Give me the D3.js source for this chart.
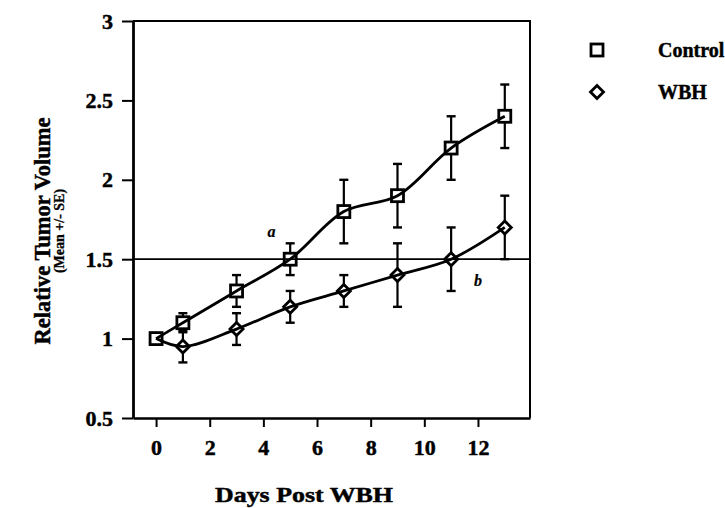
<!DOCTYPE html>
<html>
<head>
<meta charset="utf-8">
<script src="https://cdn.jsdelivr.net/npm/d3@7/dist/d3.min.js"></script>
<style>
  html, body { margin: 0; padding: 0; background: #fff; }
  svg { display: block; }
  text { font-family: "Liberation Serif", "Times New Roman", serif; font-weight: bold; fill: #000; stroke: #000; stroke-width: 0.45px; }
</style>
</head>
<body>
<svg id="chart" width="725" height="508"></svg>
<script>
// ---- data ----
const days = [0, 1, 3, 5, 7, 9, 11, 13];
const controlMean = [1.0, 1.1, 1.3, 1.5, 1.8, 1.9, 2.2, 2.4];
const controlSE   = [0, 0.06, 0.1, 0.1, 0.2, 0.2, 0.2, 0.2];
const wbhMean = [1.0, 0.95, 1.06, 1.2, 1.3, 1.4, 1.5, 1.7];
const wbhSE   = [0, 0.1, 0.1, 0.1, 0.1, 0.2, 0.2, 0.2];
const xTicks = [0, 2, 4, 6, 8, 10, 12];
const yTicks = [0.5, 1, 1.5, 2, 2.5, 3];
const refLine = 1.5;
const seriesNames = ["Control", "WBH"];
const annotations = [{label: "a", day: 4.3, value: 1.64}, {label: "b", day: 12.0, value: 1.33}];

(function () {
// ---- layout ----
const svg = d3.select("#chart");
const pL = 133, pR = 530, pT = 21, pB = 418;
const x = d3.scaleLinear().domain([-0.86, 13.94]).range([pL, pR]);
const y = d3.scaleLinear().domain([0.5, 3]).range([pB, pT]);
const serif = '"Liberation Serif", "Times New Roman", serif';

// frame (top + right)
svg.append("path")
  .attr("d", `M${pL},${pT}H${pR}V${pB}`)
  .attr("fill", "none").attr("stroke", "#000").attr("stroke-width", 2);

// axes
const yAxis = d3.axisLeft(y).tickValues(yTicks).tickFormat(d => String(d))
  .tickSize(11).tickSizeOuter(0).tickPadding(9);
const gy = svg.append("g").attr("transform", `translate(${pL},0)`).call(yAxis);
gy.select(".domain").attr("stroke-width", 2.8);
gy.selectAll(".tick line").attr("stroke-width", 2);
gy.selectAll(".tick text").style("font-size", "22px").style("font-family", serif).style("font-weight", "bold");

const xAxis = d3.axisBottom(x).tickValues(xTicks).tickFormat(d => String(d))
  .tickSize(9).tickSizeOuter(0).tickPadding(12.5);
const gx = svg.append("g").attr("transform", `translate(0,${pB})`).call(xAxis);
gx.select(".domain").attr("stroke-width", 2.4);
gx.selectAll(".tick line").attr("stroke-width", 2);
gx.selectAll(".tick text").style("font-size", "22px").style("font-family", serif).style("font-weight", "bold");

// reference line
svg.append("line")
  .attr("x1", pL).attr("x2", pR)
  .attr("y1", y(refLine)).attr("y2", y(refLine))
  .attr("stroke", "#000").attr("stroke-width", 1.8);

// series
const series = [
  {name: seriesNames[0], mean: controlMean, se: controlSE, shape: "square"},
  {name: seriesNames[1], mean: wbhMean, se: wbhSE, shape: "diamond"}
];
const line = d3.line().x(d => x(d[0])).y(d => y(d[1])).curve(d3.curveCatmullRom.alpha(0.5));
const half = 6.5;
const capW = 4.5;

function drawMarker(g, shape, cx, cy) {
  if (shape === "square") {
    g.append("rect").attr("x", cx - 6).attr("y", cy - 6).attr("width", 12).attr("height", 12)
      .attr("fill", "none").attr("stroke", "#000").attr("stroke-width", 2.8);
  } else {
    g.append("path").attr("d", `M${cx},${cy - half}L${cx + half},${cy}L${cx},${cy + half}L${cx - half},${cy}Z`)
      .attr("fill", "none").attr("stroke", "#000").attr("stroke-width", 2.8);
  }
}

[series[1], series[0]].forEach(s => {
  const pts = days.map((d, i) => [d, s.mean[i]]);
  svg.append("path").attr("d", line(pts)).attr("fill", "none")
    .attr("stroke", "#000").attr("stroke-width", 2.8);
  const g = svg.append("g");
  days.forEach((d, i) => {
    const se = s.se[i];
    const cx = x(d), cy = y(s.mean[i]);
    if (se > 0) {
      const yu = y(s.mean[i] + se), yl = y(s.mean[i] - se);
      if (yu < cy - half) {
        g.append("line").attr("x1", cx).attr("x2", cx).attr("y1", yu).attr("y2", cy - half)
          .attr("stroke", "#000").attr("stroke-width", 2.2);
      }
      if (yl > cy + half) {
        g.append("line").attr("x1", cx).attr("x2", cx).attr("y1", cy + half).attr("y2", yl)
          .attr("stroke", "#000").attr("stroke-width", 2.2);
      }
      [yu, yl].forEach(yy => {
        g.append("line").attr("x1", cx - capW).attr("x2", cx + capW).attr("y1", yy).attr("y2", yy)
          .attr("stroke", "#000").attr("stroke-width", 2.4);
      });
    }
    if (!(s.shape === "diamond" && d === 0)) drawMarker(g, s.shape, cx, cy);
  });
});

// annotations
annotations.forEach(a => {
  svg.append("text").attr("x", x(a.day)).attr("y", y(a.value))
    .style("font-size", "16px").style("font-style", "italic").style("stroke-width", "0.2px")
    .attr("text-anchor", "middle").text(a.label);
});

// legend
const legend = svg.append("g");
[{shape: "square", name: seriesNames[0], ly: 50}, {shape: "diamond", name: seriesNames[1], ly: 92}].forEach(l => {
  drawMarker(legend, l.shape, 597, l.ly);
  legend.append("text").attr("x", 658).attr("y", l.ly).attr("dy", "0.35em")
    .style("font-size", "20px").text(l.name);
});

// axis titles
svg.append("text").attr("transform", "translate(50,231) rotate(-90)")
  .attr("text-anchor", "middle").style("font-size", "22.5px").text("Relative Tumor Volume");
svg.append("text").attr("transform", "translate(64,231) rotate(-90)")
  .attr("text-anchor", "middle").style("font-size", "14px").style("stroke-width", "0.3px").text("(Mean +/- SE)");
svg.append("text").attr("x", 304).attr("y", 502)
  .attr("text-anchor", "middle").style("font-size", "22px")
  .attr("textLength", 178).attr("lengthAdjust", "spacingAndGlyphs")
  .text("Days Post WBH");
})();
</script>
</body>
</html>
